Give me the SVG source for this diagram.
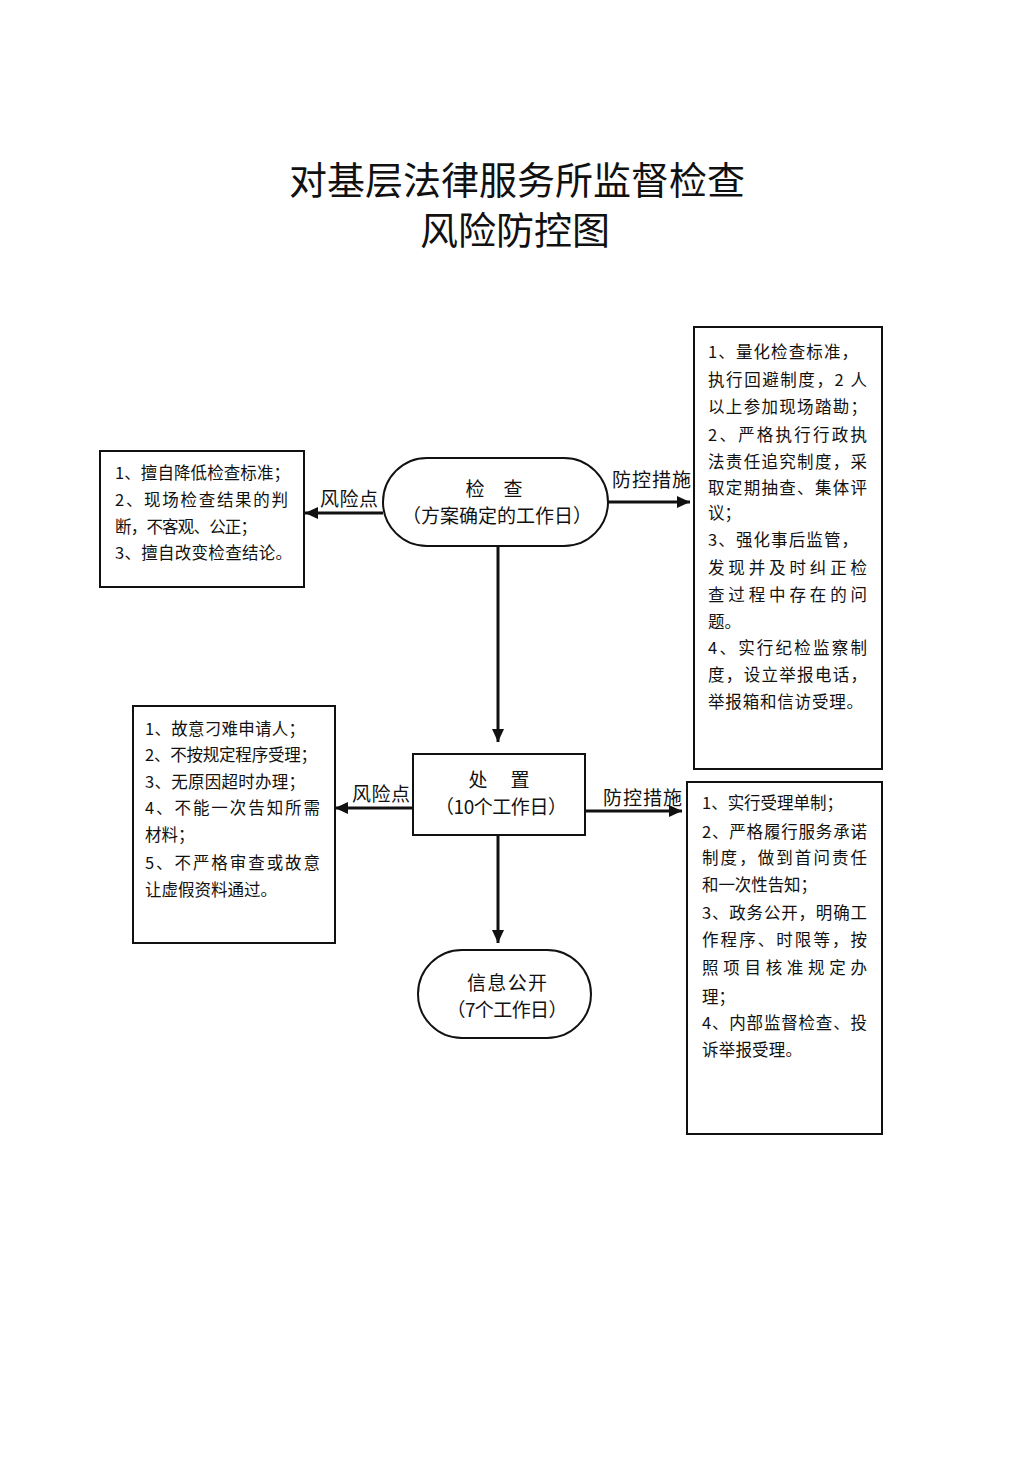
<svg xmlns="http://www.w3.org/2000/svg" width="1033" height="1460" viewBox="0 0 1033 1460">
<defs>
<style>
.t{font-family:"Noto Sans CJK SC","Liberation Sans",sans-serif;fill:#111;}
.title{font-size:38px;text-anchor:middle;}
.body{font-size:16.5px;}
.node{font-size:19px;text-anchor:middle;}
.lbl{font-size:19px;}
.box{fill:#fff;stroke:#111;stroke-width:2;}
.ln{fill:none;stroke:#111;stroke-width:3;}
</style>
<marker id="ah" markerUnits="userSpaceOnUse" markerWidth="14" markerHeight="12" refX="13" refY="6" orient="auto">
<path d="M0,0 L13,6 L0,12 z" fill="#111"/>
</marker>
</defs>
<rect width="1033" height="1460" fill="#fff"/>

<g id="title">
<text class="t title" x="517" y="194">对基层法律服务所监督检查</text>
<text class="t title" x="515" y="244">风险防控图</text>
</g>

<g id="connectors">
<line class="ln" x1="383" y1="513" x2="305" y2="513" marker-end="url(#ah)"/>
<line class="ln" x1="608" y1="502" x2="690" y2="502" marker-end="url(#ah)"/>
<line class="ln" x1="498" y1="546" x2="498" y2="742" marker-end="url(#ah)"/>
<line class="ln" x1="413" y1="808" x2="335" y2="808" marker-end="url(#ah)"/>
<line class="ln" x1="585" y1="811" x2="682" y2="811" marker-end="url(#ah)"/>
<line class="ln" x1="498" y1="835" x2="498" y2="943" marker-end="url(#ah)"/>
<text class="t lbl" x="320" y="506" textLength="58">风险点</text>
<text class="t lbl" x="612" y="487" textLength="79">防控措施</text>
<text class="t lbl" x="352" y="801" textLength="58">风险点</text>
<text class="t lbl" x="603" y="805" textLength="79">防控措施</text>
</g>

<g id="node-check">
<rect class="box" x="383" y="458" width="225" height="88" rx="44" ry="44"/>
<text class="t node" x="494" y="496">检　查</text>
<text class="t node" x="497" y="523" textLength="190">（方案确定的工作日）</text>
</g>

<g id="node-dispose">
<rect class="box" x="413" y="754" width="172" height="81"/>
<text class="t node" x="499" y="787" textLength="61">处　置</text>
<text class="t node" x="501" y="814" textLength="132">（10个工作日）</text>
</g>

<g id="node-publish">
<rect class="box" x="418" y="950" width="173" height="88" rx="44" ry="44"/>
<text class="t node" x="507" y="990" textLength="80">信息公开</text>
<text class="t node" x="507" y="1017" textLength="121">（7个工作日）</text>
</g>

<g id="risk-1">
<rect class="box" x="100" y="451" width="204" height="136"/>
<text class="t body" x="115" y="479" textLength="175">1、擅自降低检查标准；</text>
<text class="t body" x="115" y="506" textLength="173">2、现场检查结果的判</text>
<text class="t body" x="115" y="533" textLength="142">断，不客观、公正；</text>
<text class="t body" x="115" y="559" textLength="177">3、擅自改变检查结论。</text>
</g>

<g id="control-1">
<rect class="box" x="694" y="327" width="188" height="442"/>
<text class="t body" x="708" y="358" textLength="150">1、量化检查标准，</text>
<text class="t body" x="708" y="386" textLength="159">执行回避制度，2 人</text>
<text class="t body" x="708" y="413" textLength="159">以上参加现场踏勘；</text>
<text class="t body" x="708" y="441" textLength="159">2、严格执行行政执</text>
<text class="t body" x="708" y="468" textLength="159">法责任追究制度，采</text>
<text class="t body" x="708" y="494" textLength="159">取定期抽查、集体评</text>
<text class="t body" x="708" y="519">议；</text>
<text class="t body" x="708" y="546" textLength="150">3、强化事后监管，</text>
<text class="t body" x="708" y="574" textLength="159">发现并及时纠正检</text>
<text class="t body" x="708" y="601" textLength="159">查过程中存在的问</text>
<text class="t body" x="708" y="628">题。</text>
<text class="t body" x="708" y="654" textLength="159">4、实行纪检监察制</text>
<text class="t body" x="708" y="681" textLength="159">度，设立举报电话，</text>
<text class="t body" x="708" y="708" textLength="155">举报箱和信访受理。</text>
</g>

<g id="risk-2">
<rect class="box" x="133" y="706" width="202" height="237"/>
<text class="t body" x="145" y="735" textLength="160">1、故意刁难申请人；</text>
<text class="t body" x="145" y="761" textLength="172">2、不按规定程序受理；</text>
<text class="t body" x="145" y="788" textLength="160">3、无原因超时办理；</text>
<text class="t body" x="145" y="814" textLength="175">4、不能一次告知所需</text>
<text class="t body" x="145" y="841">材料；</text>
<text class="t body" x="145" y="869" textLength="175">5、不严格审查或故意</text>
<text class="t body" x="145" y="896" textLength="132">让虚假资料通过。</text>
</g>

<g id="control-2">
<rect class="box" x="687" y="782" width="195" height="352"/>
<text class="t body" x="702" y="809" textLength="141">1、实行受理单制；</text>
<text class="t body" x="702" y="838" textLength="165">2、严格履行服务承诺</text>
<text class="t body" x="702" y="864" textLength="165">制度，做到首问责任</text>
<text class="t body" x="702" y="891" textLength="115">和一次性告知；</text>
<text class="t body" x="702" y="919" textLength="165">3、政务公开，明确工</text>
<text class="t body" x="702" y="946" textLength="165">作程序、时限等，按</text>
<text class="t body" x="702" y="974" textLength="165">照项目核准规定办</text>
<text class="t body" x="702" y="1003">理；</text>
<text class="t body" x="702" y="1029" textLength="165">4、内部监督检查、投</text>
<text class="t body" x="702" y="1056" textLength="100">诉举报受理。</text>
</g>
</svg>
